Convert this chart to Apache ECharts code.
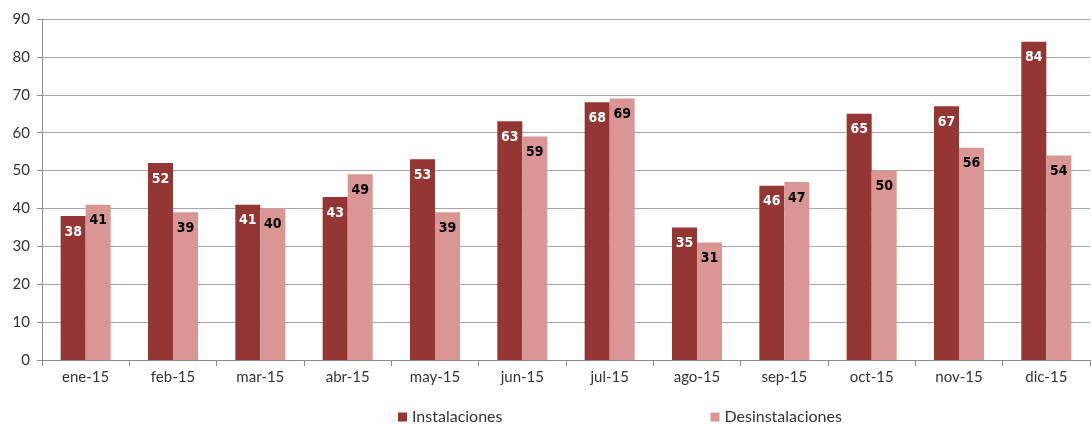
<!DOCTYPE html>
<html lang="es">
<head>
    <meta charset="utf-8">
    <title>Instalaciones / Desinstalaciones</title>
    <script src="https://cdn.jsdelivr.net/npm/echarts@6/dist/echarts.min.js"></script>
    <style>
        html, body { margin: 0; padding: 0; background: #fff; }
        #main { width: 1091px; height: 425px; }
    </style>
</head>
<body>
    <div id="main"></div>
    <script type="text/javascript">
        // datos
        var meses = ['ene-15', 'feb-15', 'mar-15', 'abr-15', 'may-15', 'jun-15',
                     'jul-15', 'ago-15', 'sep-15', 'oct-15', 'nov-15', 'dic-15'];
        var instalaciones = [38, 52, 41, 43, 53, 63, 68, 35, 46, 65, 67, 84];
        var desinstalaciones = [41, 39, 40, 49, 39, 59, 69, 31, 47, 50, 56, 54];

        var myChart = echarts.init(document.getElementById('main'));
        var fuente = 'Lato, "DejaVu Sans", sans-serif';
        var etiqueta = {
            show: true,
            position: 'insideTop',
            distance: 9,
            fontFamily: '"DejaVu Sans Condensed", "DejaVu Sans", sans-serif',
            fontWeight: 'bold',
            fontSize: 14
        };
        var option = {
            animation: false,
            grid: {
                left: 42,
                right: 1,
                top: 19,
                bottom: 65
            },
            legend: {
                bottom: -5,
                left: 393,
                itemGap: 208,
                itemWidth: 9,
                itemHeight: 9,
                icon: 'rect',
                textStyle: { fontFamily: fuente, fontSize: 16, color: '#333' },
                data: ['Instalaciones', 'Desinstalaciones']
            },
            xAxis: {
                type: 'category',
                data: meses,
                axisLine: { lineStyle: { color: '#8c8c8c' } },
                axisTick: { show: true, length: 6, lineStyle: { color: '#8c8c8c' } },
                axisLabel: { fontFamily: fuente, fontSize: 15, color: '#333', margin: 10 }
            },
            yAxis: {
                type: 'value',
                min: 0,
                max: 90,
                interval: 10,
                axisLine: { show: true, lineStyle: { color: '#8c8c8c' } },
                axisTick: { show: true, length: 5, lineStyle: { color: '#8c8c8c' } },
                splitLine: { lineStyle: { color: '#a6a6a6' } },
                axisLabel: { fontFamily: fuente, fontSize: 15, color: '#333', margin: 12 }
            },
            series: [
                {
                    name: 'Instalaciones',
                    type: 'bar',
                    data: instalaciones,
                    barWidth: 25,
                    barGap: '0%',
                    itemStyle: { color: '#943634' },
                    label: Object.assign({ color: '#fff' }, etiqueta)
                },
                {
                    name: 'Desinstalaciones',
                    type: 'bar',
                    data: desinstalaciones,
                    barWidth: 25,
                    itemStyle: { color: '#d99694' },
                    label: Object.assign({ color: '#000' }, etiqueta)
                }
            ]
        };
        myChart.setOption(option);
    </script>
</body>
</html>
